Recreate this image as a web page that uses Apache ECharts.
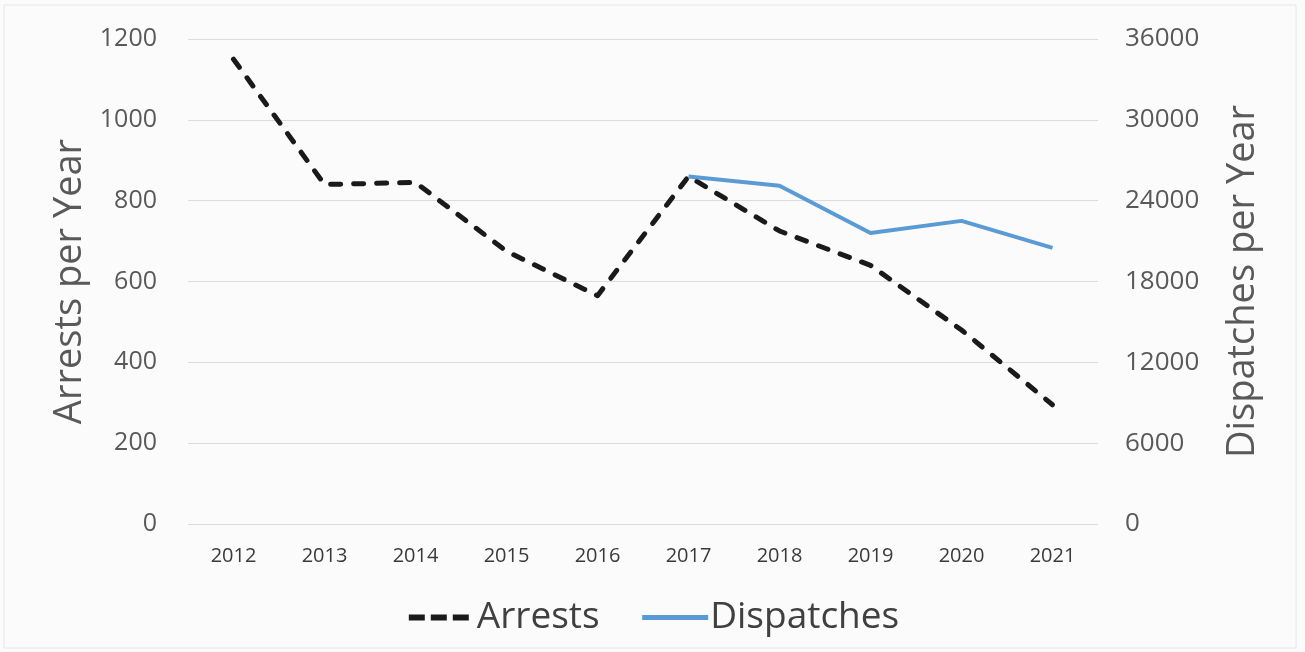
<!DOCTYPE html>
<html>
<head>
<meta charset="utf-8">
<script src="https://cdn.jsdelivr.net/npm/echarts@6/dist/echarts.min.js"></script>
<style>
  html, body { margin: 0; padding: 0; background: #ffffff; }
  #chart { width: 1305px; height: 652px; }
</style>
</head>
<body>
<div id="chart"></div>
<script>
// Yearly arrests (left axis) and dispatches (right axis)
const years = ['2012', '2013', '2014', '2015', '2016', '2017', '2018', '2019', '2020', '2021'];
const arrests = [1150, 840, 845, 675, 565, 860, 725, 640, 480, 295];
const dispatches = [null, null, null, null, null, 25800, 25100, 21600, 22500, 20500];
const leftTicks = [0, 200, 400, 600, 800, 1000, 1200];
const rightTicks = [0, 6000, 12000, 18000, 24000, 30000, 36000];

const FONT = 'Open Sans';
const plain = v => String(v);
const chart = echarts.init(document.getElementById('chart'), null, { renderer: 'canvas' });

chart.setOption({
  backgroundColor: '#fbfbfb',
  animation: false,
  graphic: [{
    type: 'rect',
    shape: { x: 4, y: 5, width: 1292, height: 643 },
    style: { fill: 'none', stroke: '#e6e6e6', lineWidth: 1 },
    silent: true
  }],
  grid: { left: 188, right: 207, top: 39, bottom: 128 },
  legend: {
    left: 'center',
    top: 594,
    itemWidth: 66,
    itemHeight: 14,
    itemGap: 40,
    itemStyle: { opacity: 0 },
    textStyle: { fontFamily: FONT, fontSize: 37, color: '#404040', padding: [0, 0, 0, -3] },
    data: [
      { name: 'Arrests', lineStyle: { width: 6, type: [16, 6], cap: 'butt' } },
      { name: 'Dispatches', lineStyle: { width: 5 } }
    ]
  },
  xAxis: {
    type: 'category',
    data: years,
    boundaryGap: true,
    axisLine: { show: false },
    axisTick: { show: false },
    axisLabel: { fontFamily: FONT, fontSize: 20, color: '#3a3a3a', margin: 22 }
  },
  yAxis: [{
    type: 'value',
    min: leftTicks[0],
    max: leftTicks[leftTicks.length - 1],
    interval: leftTicks[1] - leftTicks[0],
    name: 'Arrests per Year',
    nameLocation: 'middle',
    nameRotate: 90,
    nameGap: 98,
    nameTextStyle: { fontFamily: FONT, fontSize: 38, color: '#595959' },
    axisLine: { show: false },
    axisTick: { show: false },
    axisLabel: { fontFamily: FONT, fontSize: 25, color: '#595959', margin: 31, formatter: plain },
    splitLine: { lineStyle: { color: '#dcdcdc', width: 1 } }
  }, {
    type: 'value',
    position: 'right',
    min: rightTicks[0],
    max: rightTicks[rightTicks.length - 1],
    interval: rightTicks[1] - rightTicks[0],
    name: 'Dispatches per Year',
    nameLocation: 'middle',
    nameRotate: 90,
    nameGap: 126,
    nameTextStyle: { fontFamily: FONT, fontSize: 38, color: '#595959' },
    axisLine: { show: false },
    axisTick: { show: false },
    axisLabel: { fontFamily: FONT, fontSize: 26, color: '#595959', margin: 27, formatter: plain },
    splitLine: { show: false }
  }],
  series: [{
    name: 'Arrests',
    type: 'line',
    yAxisIndex: 0,
    data: arrests,
    symbol: 'none',
    color: '#1a1a1a',
    lineStyle: { color: '#1a1a1a', width: 5, type: [10, 13], cap: 'round', join: 'round' }
  }, {
    name: 'Dispatches',
    type: 'line',
    yAxisIndex: 1,
    data: dispatches,
    symbol: 'none',
    color: '#5b9bd5',
    lineStyle: { color: '#5b9bd5', width: 4, join: 'round' }
  }]
});
</script>
</body>
</html>
